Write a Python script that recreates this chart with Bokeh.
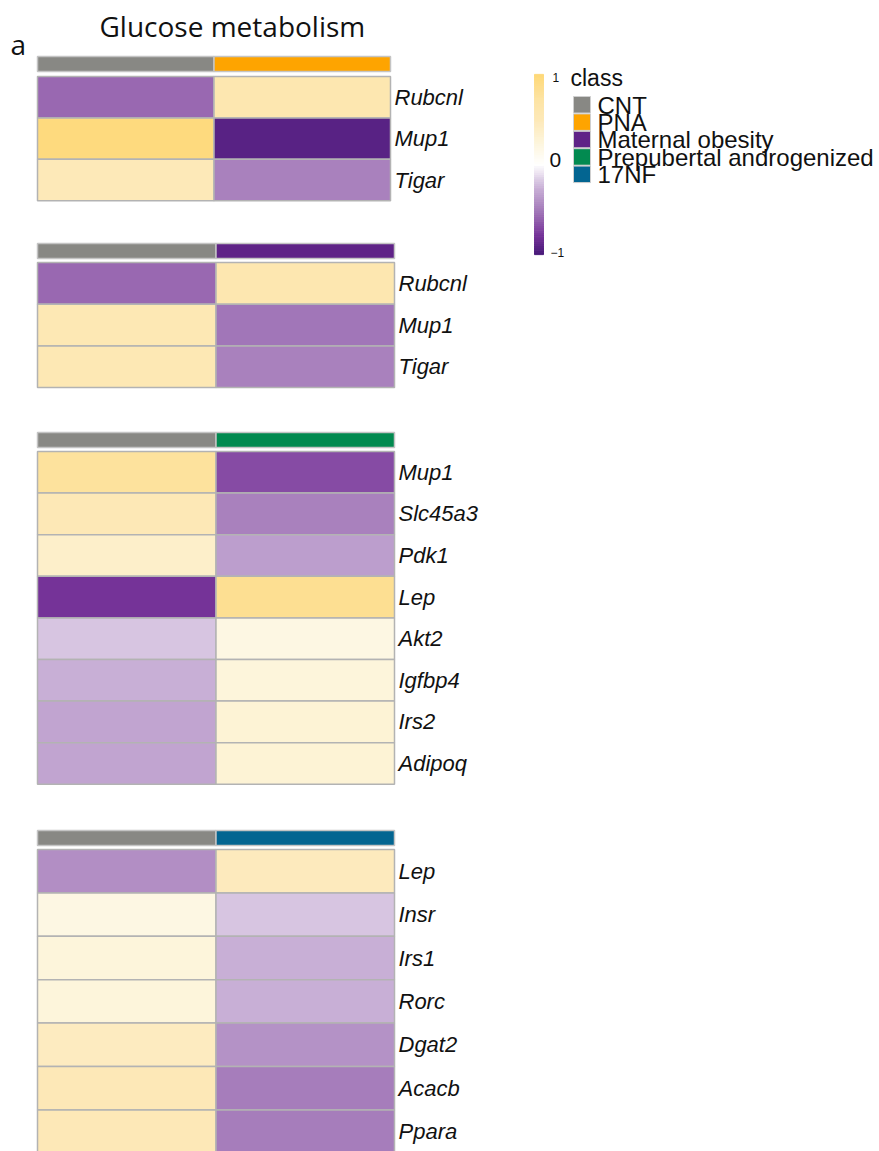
import numpy as np
from bokeh.plotting import figure
from bokeh.models import Range1d, ColumnDataSource
from bokeh.transform import linear_cmap
from bokeh.core.properties import value
from bokeh.embed import file_html
from bokeh.resources import INLINE

# ---- data -------------------------------------------------------------
classes = ["CNT", "PNA", "Maternal obesity", "Prepubertal androgenized", "17NF"]
class_colors = ["#888884", "#fea400", "#5f2387", "#028a50", "#036591"]

pna_genes = ["Rubcnl", "Mup1", "Tigar"]
pna_cnt = [-0.58, 0.97, 0.50]
pna_trt = [0.60, -0.93, -0.48]

mo_genes = ["Rubcnl", "Mup1", "Tigar"]
mo_cnt = [-0.58, 0.55, 0.55]
mo_trt = [0.60, -0.53, -0.48]

pre_genes = ["Mup1", "Slc45a3", "Pdk1", "Lep", "Akt2", "Igfbp4", "Irs2", "Adipoq"]
pre_cnt = [0.78, 0.53, 0.38, -0.80, -0.19, -0.27, -0.32, -0.32]
pre_trt = [-0.70, -0.48, -0.35, 0.85, 0.20, 0.25, 0.30, 0.30]

nf_genes = ["Lep", "Insr", "Irs1", "Rorc", "Dgat2", "Acacb", "Ppara"]
nf_cnt = [-0.42, 0.20, 0.25, 0.25, 0.45, 0.52, 0.52]
nf_trt = [0.47, -0.19, -0.27, -0.27, -0.40, -0.50, -0.50]

colorbar_ticks = [1, 0, -1]
colorbar_tick_labels = ["1", "0", "\u22121"]

# ---- colour scale (purple - white - yellow) ------------------------------
stops = [(-1.0, "#4a1a7a"), (-0.8, "#763399"), (-0.5, "#a67dbb"),
         (-0.25, "#cbb3d8"), (0.0, "#ffffff"), (0.25, "#fdf5dc"),
         (0.5, "#fde9b9"), (0.75, "#fde3a2"), (1.0, "#fed97a")]


def hex2rgb(h):
    return np.array([int(h[i:i + 2], 16) for i in (1, 3, 5)], dtype=float)


def build_palette(n=256):
    xs = np.array([s[0] for s in stops])
    cs = np.array([hex2rgb(s[1]) for s in stops])
    out = []
    for t in np.linspace(-1, 1, n):
        rgb = [np.interp(t, xs, cs[:, k]) for k in range(3)]
        out.append("#%02x%02x%02x" % tuple(int(round(c)) for c in rgb))
    return out


palette = build_palette()
cmap = linear_cmap("value", palette, -1, 1)

# ---- canvas -------------------------------------------------------------
W, H = 879, 1151
p = figure(width=W, height=H, x_range=Range1d(0, W), y_range=Range1d(H, 0),
           output_backend="svg", toolbar_location=None, min_border=0)
p.axis.visible = False
p.grid.visible = False
p.outline_line_color = None
p.background_fill_color = "white"

# panel layout: (genes, cnt, treatment, class index, annot top, rows top, row height, right edge)
panels = [
    (pna_genes, pna_cnt, pna_trt, 1, 56, 76, 41.4, 390),
    (mo_genes, mo_cnt, mo_trt, 2, 243, 262, 41.7, 394),
    (pre_genes, pre_cnt, pre_trt, 3, 432, 451, 41.6, 394),
    (nf_genes, nf_cnt, nf_trt, 4, 830, 849, 43.4, 394),
]
LEFT = 37
ANN_H = 15
GRID = "#b3b3b3"
TXT = "#111111"

for genes, cnt, trt, ci, ann_top, top, rh, right in panels:
    mid = (LEFT + right) / 2
    # annotation strip
    p.quad(left=[LEFT, mid], right=[mid, right], top=[ann_top, ann_top],
           bottom=[ann_top + ANN_H, ann_top + ANN_H],
           fill_color=[class_colors[0], class_colors[ci]],
           line_color="#c4c4c4", line_width=1.5)
    # heatmap cells
    n = len(genes)
    idx = np.arange(n)
    src = ColumnDataSource(dict(
        left=[LEFT] * n + [mid] * n,
        right=[mid] * n + [right] * n,
        top=list(top + idx * rh) * 2,
        bottom=list(top + (idx + 1) * rh) * 2,
        value=list(cnt) + list(trt),
    ))
    p.quad(left="left", right="right", top="top", bottom="bottom", source=src,
           fill_color=cmap, line_color=GRID, line_width=1.5)
    # gene labels
    p.text(x=[right + 4] * n, y=list(top + (idx + 0.5) * rh), text=genes,
           text_font=value("Liberation Sans"), text_font_style="italic",
           text_font_size="22px", text_baseline="middle", text_color=TXT)

# ---- colour bar ---------------------------------------------------------
CB_L, CB_R, CB_TOP, CB_BOT = 534, 543, 75, 253
steps = np.linspace(-1, 1, 81)
dv = steps[1] - steps[0]
cb_src = ColumnDataSource(dict(
    value=steps,
    top=CB_BOT - (steps + 1 + dv / 2) / 2 * (CB_BOT - CB_TOP),
    bottom=CB_BOT - (steps + 1 - dv / 2) / 2 * (CB_BOT - CB_TOP),
))
p.quad(left=CB_L, right=CB_R, top="top", bottom="bottom", source=cb_src,
       fill_color=cmap, line_color=cmap)

tick_y = [CB_BOT - (t + 1) / 2 * (CB_BOT - CB_TOP) for t in colorbar_ticks]
tick_sizes = ["12px", "21px", "12px"]
tick_x = [552, 549, 550]
tick_dy = [2, -5, -1]
for tx, ty, dy, lab, sz in zip(tick_x, tick_y, tick_dy, colorbar_tick_labels, tick_sizes):
    p.text(x=[tx], y=[ty + dy], text=[lab],
           text_font=value("Liberation Sans"), text_font_size=sz,
           text_baseline="middle", text_color=TXT)

# ---- class legend -------------------------------------------------------
p.text(x=[570], y=[77], text=["class"], text_font=value("Liberation Sans"),
       text_font_size="23px", text_baseline="middle", text_color=TXT)
LG_TOP, LG_STEP = 96, 17.4
k = np.arange(len(classes))
p.quad(left=573, right=590, top=LG_TOP + k * LG_STEP,
       bottom=LG_TOP + k * LG_STEP + 16.5, fill_color=class_colors,
       line_color="#cfcfcf", line_width=1)
p.text(x=[597] * len(classes), y=list(LG_TOP + k * LG_STEP + 8.5), text=classes,
       text_font=value("Liberation Sans"), text_font_size="24px",
       text_baseline="middle", text_color=TXT)

# ---- titles -------------------------------------------------------------
p.text(x=[99], y=[25], text=["Glucose metabolism"], text_font=value("Open Sans"),
       text_font_size="28px", text_baseline="middle", text_color=TXT)
p.text(x=[10], y=[43], text=["a"], text_font=value("Open Sans"),
       text_font_size="28px", text_baseline="middle", text_color=TXT)

open("out.html", "w").write(file_html(p, INLINE))
